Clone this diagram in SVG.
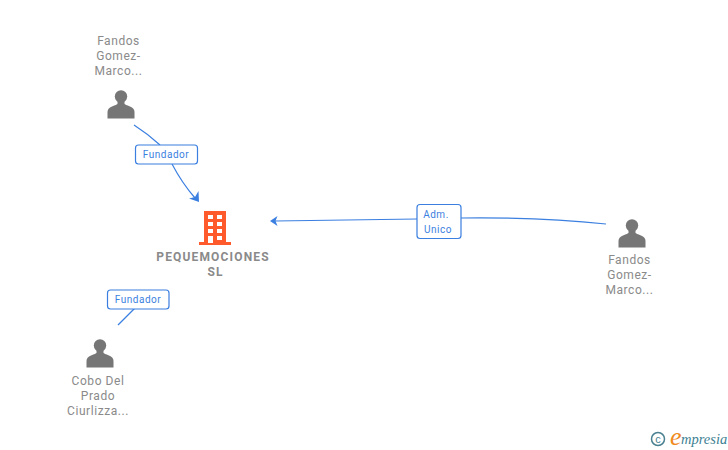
<svg xmlns="http://www.w3.org/2000/svg" width="728" height="450" viewBox="0 0 728 450">
<defs>
<style>
.lbl{font-family:Roboto,"Liberation Sans",sans-serif;font-size:12px;fill:#8a8a8a;text-anchor:middle;letter-spacing:.55px}
.co{font-family:Roboto,"Liberation Sans",sans-serif;font-size:12px;font-weight:bold;fill:#8a8a8a;text-anchor:middle;letter-spacing:1.15px}
.el{font-family:Roboto,"Liberation Sans",sans-serif;font-size:10px;fill:#3b7fe0;text-anchor:middle;letter-spacing:.5px}
.box{fill:#fff;stroke:#3b7fe0;stroke-width:1.2}
.ln{fill:none;stroke:#3b7fe0;stroke-width:1.2}
.ah{fill:#3b7fe0}
.p{fill:#767676}
</style>
<g id="person"><circle cx="0" cy="-8.500" r="6.200" class="p"/><path class="p" d="M-3.500-4 L-3.500-1 Q-4-0.500-9 1.500 Q-13.500 3-13.500 7 L-13.500 13.500 L13.500 13.500 L13.500 7 Q13.500 3 9 1.500 Q4-0.500 3.500-1 L3.500-4Z"/></g>
</defs>
<rect width="728" height="450" fill="#fff"/>
<g id="connectors">
<path class="ln" d="M134 125 Q148 134 160 145"/>
<path class="ln" d="M172 164 Q182 183 195 198"/>
<path class="ah" d="M199 202 L198.500 191 L195 197 L189 198.500Z"/>
<path class="ln" d="M606 224 Q540 217 461 218"/>
<path class="ln" d="M417 219 L275 221"/>
<path class="ah" d="M270 221 L277.500 216 L275.500 221 L277.500 226Z"/>
<path class="ln" d="M135 308 L118 325"/>
</g>
<g id="edge-label-1"><rect class="box" x="135.500" y="145" width="62" height="19" rx="3"/><text class="el" x="166" y="158">Fundador</text></g>
<g id="edge-label-2"><rect class="box" x="417" y="204.500" width="44" height="34" rx="3"/><text class="el" x="436" y="218">Adm.</text><text class="el" x="438" y="233">Unico</text></g>
<g id="edge-label-3"><rect class="box" x="107.500" y="290" width="61.500" height="19" rx="3"/><text class="el" x="138" y="303">Fundador</text></g>
<g id="node-company">
<path fill="#ff5a2b" d="M204 211 H226 V242 H231 V245 H199 V242 H204Z"/>
<g fill="#fff"><rect x="208" y="215" width="5" height="4"/><rect x="217" y="215" width="5" height="4"/><rect x="208" y="222" width="5" height="4"/><rect x="217" y="222" width="5" height="4"/><rect x="208" y="229" width="5" height="4"/><rect x="217" y="229" width="5" height="4"/><rect x="208" y="236" width="5" height="7"/><rect x="217" y="236" width="5" height="4"/></g>
<text class="co" x="213" y="261">PEQUEMOCIONES</text><text class="co" x="215.500" y="276">SL</text>
</g>
<g id="node-person-1"><use href="#person" x="121" y="105"/><text class="lbl" x="118.500" y="45">Fandos</text><text class="lbl" x="118.500" y="60">Gomez-</text><text class="lbl" x="118.500" y="75">Marco...</text></g>
<g id="node-person-2"><use href="#person" x="632" y="234"/><text class="lbl" x="629.500" y="264">Fandos</text><text class="lbl" x="629.500" y="279">Gomez-</text><text class="lbl" x="629.500" y="294">Marco...</text></g>
<g id="node-person-3"><use href="#person" x="100" y="354"/><text class="lbl" x="98" y="385">Cobo Del</text><text class="lbl" x="98" y="400">Prado</text><text class="lbl" x="98" y="415">Ciurlizza...</text></g>
<g id="watermark">
<circle cx="658" cy="439" r="6.500" fill="none" stroke="#4a8090" stroke-width="1.500"/>
<text x="658" y="443" font-family="'Liberation Sans',sans-serif" font-size="11" fill="#4a8090" text-anchor="middle">c</text>
<text x="670" y="445" font-family="'Liberation Serif',serif" font-style="italic" font-size="26" fill="#f08a1d">e</text>
<text x="681" y="444" font-family="'Liberation Serif',serif" font-style="italic" font-size="14.500" fill="#3d7f92">mpresia</text>
</g>
</svg>
